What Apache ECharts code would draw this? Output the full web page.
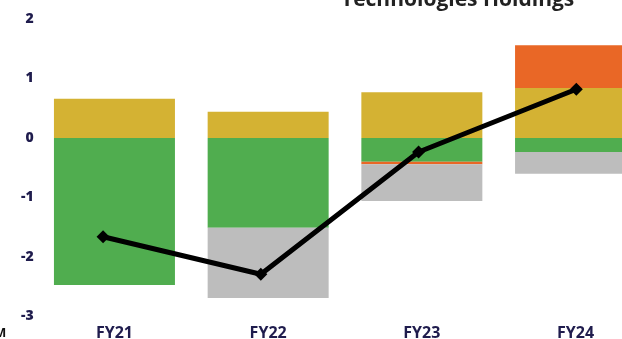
<!DOCTYPE html>
<html>
<head>
<meta charset="UTF-8">
<title>Technologies Holdings</title>
<script src="https://cdn.jsdelivr.net/npm/echarts@6/dist/echarts.min.js"></script>
<style>
  html, body { margin: 0; padding: 0; background: #fff; }
  #main { width: 622px; height: 339px; }
</style>
</head>
<body>
<div id="main"></div>
<script>
// data
var years = ['FY21', 'FY22', 'FY23', 'FY24'];
var greenPart = [-2.47, -1.51, -0.40, -0.235];
var goldPart = [0.66, 0.44, 0.77, 0.84];
var orangePart = [0, 0, -0.04, 0.72];
var greyPart = [0, -1.18, -0.62, -0.365];
var netLine = [-1.66, -2.29, -0.235, 0.82];
var yTicks = [-3, -2, -1, 0, 1, 2];

var navy = '#1f1c4d';
var myChart = echarts.init(document.getElementById('main'));

function barSeries(name, data, color) {
  return {
    name: name,
    type: 'bar',
    stack: 'total',
    barWidth: 121,
    data: data,
    itemStyle: { color: color },
    silent: true
  };
}

var option = {
  animation: false,
  title: {
    text: 'Technologies Holdings',
    left: 336,
    top: -15,
    textStyle: { fontFamily: 'Open Sans', fontWeight: 'bold', fontSize: 21, color: '#222' }
  },
  graphic: [{
    type: 'text',
    left: -6,
    top: 327,
    style: { text: 'M', font: 'bold 13px "Open Sans"', fill: '#111' }
  }],
  // the picture is cropped on the right, so the grids run past the canvas
  grid: [
    { left: 37.6, width: 614.8, top: 19, bottom: 22.5, containLabel: false, outerBoundsMode: 'none' },
    { left: 24.2, width: 631, top: 19, bottom: 22.5, containLabel: false, outerBoundsMode: 'none' }
  ],
  xAxis: [{
    type: 'category',
    gridIndex: 0,
    data: years,
    axisLine: { show: false },
    axisTick: { show: false },
    axisLabel: {
      margin: 9,
      color: navy,
      fontFamily: 'Open Sans',
      fontWeight: 'bold',
      fontSize: 16
    }
  }, {
    type: 'category',
    gridIndex: 1,
    data: years,
    show: false
  }],
  yAxis: [{
    type: 'value',
    gridIndex: 0,
    min: yTicks[0],
    max: yTicks[yTicks.length - 1],
    interval: 1,
    splitLine: { show: false },
    axisLine: { show: false },
    axisTick: { show: false },
    axisLabel: {
      margin: 4,
      color: navy,
      fontFamily: 'Open Sans',
      fontWeight: 800,
      fontSize: 14
    }
  }, {
    type: 'value',
    gridIndex: 1,
    min: yTicks[0],
    max: yTicks[yTicks.length - 1],
    show: false
  }],
  series: [
    barSeries('green', greenPart, '#50ad4f'),
    barSeries('gold', goldPart, '#d4b233'),
    barSeries('orange', orangePart, '#e96726'),
    barSeries('grey', greyPart, '#bdbdbd'),
    {
      name: 'net',
      type: 'line',
      xAxisIndex: 1,
      yAxisIndex: 1,
      data: netLine,
      symbol: 'diamond',
      symbolSize: 13,
      lineStyle: { color: '#000', width: 5 },
      itemStyle: { color: '#000' },
      z: 5
    }
  ]
};

myChart.setOption(option);
</script>
</body>
</html>
